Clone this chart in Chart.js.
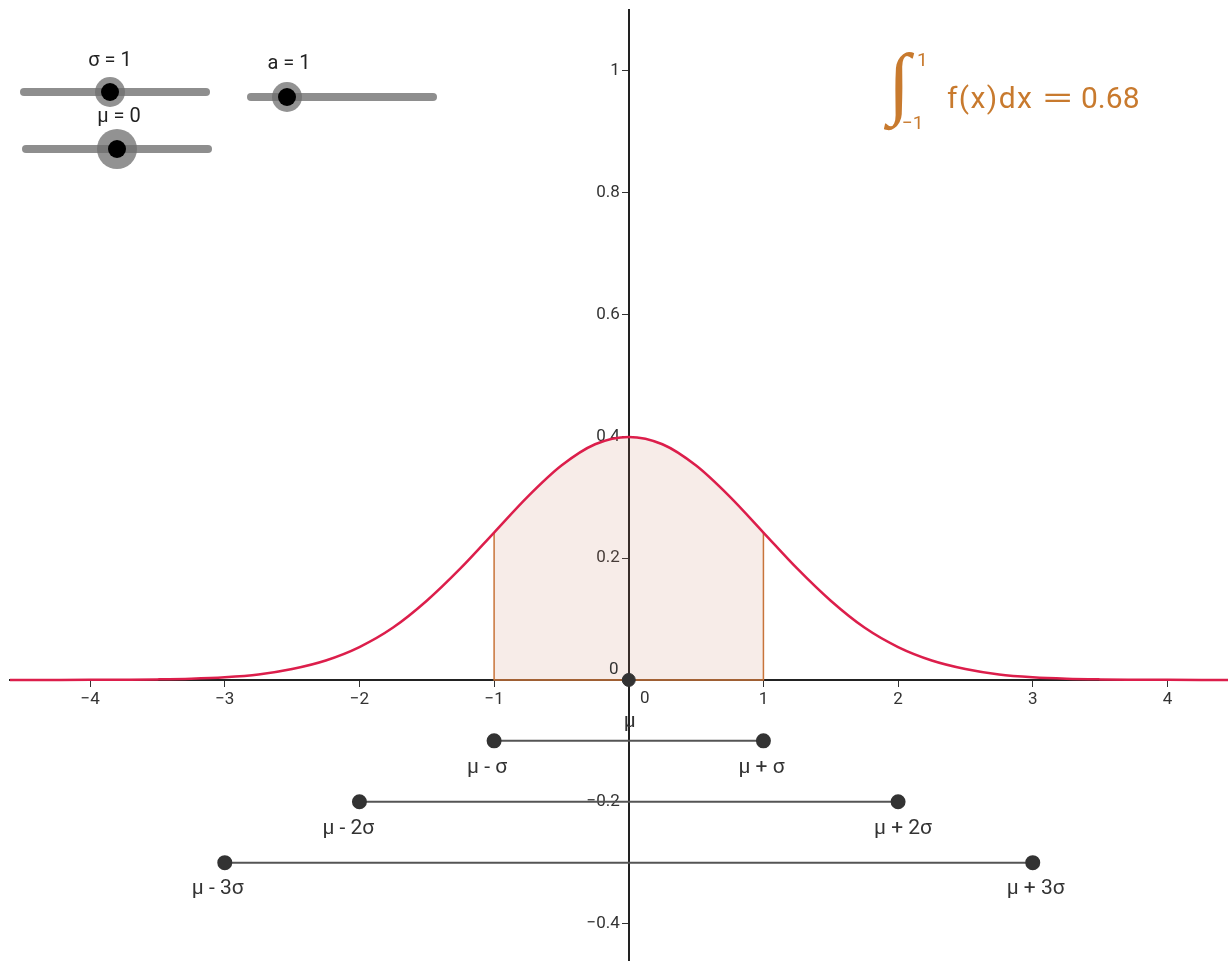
<!DOCTYPE html>
<html>
<head>
<meta charset="utf-8">
<script src="https://cdn.jsdelivr.net/npm/chart.js@4.4.1/dist/chart.umd.min.js"></script>
<style>
  html, body { margin:0; padding:0; background:#fff; }
  #wrap { position:relative; width:1228px; height:961px; overflow:hidden; font-family: Roboto, "Noto Sans", sans-serif; color:#333; }
  #wrap canvas { position:absolute; left:0; top:0; }
  .track { position:absolute; height:8px; margin-top:-4px; background:#8e8e8e; border-radius:4px; }
  .halo, .knob { position:absolute; border-radius:50%; }
  .halo { background:rgba(110,110,110,0.75); }
  .knob { background:#000; }
  .slabel { position:absolute; font-size:20px; transform:translate(-50%,-50%); white-space:nowrap; color:#222; }
  #integral { position:absolute; left:0; top:0; color:#c87a2e; }
  #integral span { position:absolute; white-space:nowrap; line-height:1; }
  #integral .sign { left:888px; top:42px; font-family:"Liberation Serif"; font-size:80px; }
  #integral .sup { left:917px; top:50px; font-size:19px; }
  #integral .sub { left:902px; top:113px; font-size:19px; }
  #integral .fx { left:947px; top:83px; font-size:30px; letter-spacing:1.4px; }
  #integral .eq { left:1041px; top:83px; font-size:30px; transform:scaleX(2); transform-origin:left center; }
  #integral .val { left:1081px; top:83px; font-size:30px; }
</style>
</head>
<body>
<div id="wrap">
  <canvas id="chart" width="1228" height="961"></canvas>
  <div id="sliders"></div>
  <div id="integral">
    <span class="sign">∫</span>
    <span class="sup">1</span>
    <span class="sub">−1</span>
    <span class="fx">f(x)dx</span>
    <span class="eq">=</span>
    <span class="val">0.68</span>
  </div>
</div>
<script>
// --- data ---
const mu = 0;
const sigma = 1;
const curveX = [-4.75, -4.5, -4.25, -4, -3.75, -3.5, -3.25, -3, -2.75, -2.5, -2.25, -2, -1.75, -1.5, -1.25, -1,
                -0.75, -0.5, -0.25, 0, 0.25, 0.5, 0.75, 1, 1.25, 1.5, 1.75, 2, 2.25, 2.5, 2.75, 3,
                3.25, 3.5, 3.75, 4, 4.25, 4.5, 4.75];
const curveY = [0, 0, 0, 0.0001, 0.0004, 0.0009, 0.002, 0.0044, 0.009, 0.018, 0.032, 0.054, 0.086, 0.13, 0.183, 0.242,
                0.301, 0.352, 0.387, 0.399, 0.387, 0.352, 0.301, 0.242, 0.183, 0.13, 0.086, 0.054, 0.032, 0.018, 0.009, 0.0044,
                0.002, 0.0009, 0.0004, 0.0001, 0, 0, 0];
const shadeFrom = -1;
const shadeTo = 1;
const intervalK = [1, 2, 3];
const intervalY = [-0.1, -0.2, -0.3];
const leftLabels  = ['μ - σ', 'μ - 2σ', 'μ - 3σ'];
const rightLabels = ['μ + σ', 'μ + 2σ', 'μ + 3σ'];

// label offsets (px) from each end point, as placed in the original
const leftOff  = [[-27, 27], [-37, 27], [-33, 26]];
const rightOff = [[-25, 27], [-24, 27], [-26, 26]];

// sliders: label, track x0..x1, y, knob x, halo r
const sliders = [
  { label: 'σ = 1', x0: 20,  x1: 210, y: 92,  knob: 110, halo: 15, lx: 110, ly: 59 },
  { label: 'a = 1', x0: 247, x1: 437, y: 97,  knob: 287, halo: 15, lx: 289, ly: 62 },
  { label: 'μ = 0', x0: 22,  x1: 212, y: 149, knob: 117, halo: 20, lx: 119, ly: 115 },
];

const sl = document.getElementById('sliders');
sliders.forEach(s => {
  sl.insertAdjacentHTML('beforeend', `
    <div class="track" style="left:${s.x0}px;top:${s.y}px;width:${s.x1 - s.x0}px"></div>
    <div class="halo" style="left:${s.knob - s.halo}px;top:${s.y - s.halo}px;width:${2*s.halo}px;height:${2*s.halo}px"></div>
    <div class="knob" style="left:${s.knob - 9}px;top:${s.y - 9}px;width:18px;height:18px"></div>
    <div class="slabel" style="left:${s.lx}px;top:${s.ly}px">${s.label}</div>`);
});

const pts = curveX.map((x, i) => ({ x, y: curveY[i] }));
const shadePts = pts.filter(p => p.x >= shadeFrom && p.x <= shadeTo);
const yAt = x => curveY[curveX.indexOf(x)];
const edgePts = [
  { x: shadeFrom, y: yAt(shadeFrom) }, { x: shadeFrom, y: 0 },
  { x: shadeTo, y: 0 }, { x: shadeTo, y: yAt(shadeTo) },
];

const fmt = v => v === 0 ? '' : String(Math.round(v * 10) / 10).replace('-', '\u2212');

const datasets = [
  { data: pts, borderColor: '#dc1e4b', borderWidth: 2.5, pointRadius: 0,
    cubicInterpolationMode: 'monotone', order: 1 },
  { data: shadePts, borderWidth: 0, pointRadius: 0, cubicInterpolationMode: 'monotone',
    fill: 'origin', backgroundColor: 'rgba(200,120,90,0.14)', order: 6 },
  { data: edgePts, borderColor: '#c8743a', borderWidth: 1.5, pointRadius: 0, tension: 0, order: 5 },
];
intervalK.forEach((k, i) => {
  datasets.push({
    data: [{ x: mu - k * sigma, y: intervalY[i] }, { x: mu + k * sigma, y: intervalY[i] }],
    borderColor: '#555', borderWidth: 2, pointRadius: 6.5,
    pointBackgroundColor: '#333', pointBorderColor: '#333', order: 2,
  });
});
datasets.push({ data: [{ x: mu, y: 0 }], showLine: false, pointRadius: 6.5,
  pointBackgroundColor: '#333', pointBorderColor: '#333', order: 0 });

// y tick labels sit a little left of the axis line (GeoGebra style)
const shiftYLabels = {
  id: 'shiftYLabels',
  beforeDraw(chart) {
    const items = chart.scales.y.getLabelItems();
    if (items._shifted) return;
    items.forEach(it => { it.options.translation[0] -= 9; });
    items._shifted = true;
  }
};

const labelPlugin = {
  id: 'pointLabels',
  afterDatasetsDraw(chart) {
    const { ctx, scales: { x, y } } = chart;
    const x0 = x.getPixelForValue(0), y0 = y.getPixelForValue(0);
    ctx.save();
    ctx.fillStyle = '#333';
    ctx.font = '21px Roboto';
    ctx.textAlign = 'left';
    ctx.textBaseline = 'middle';
    intervalK.forEach((k, i) => {
      const py = y.getPixelForValue(intervalY[i]);
      const xl = x.getPixelForValue(mu - k * sigma), xr = x.getPixelForValue(mu + k * sigma);
      ctx.fillText(leftLabels[i], xl + leftOff[i][0], py + leftOff[i][1]);
      ctx.fillText(rightLabels[i], xr + rightOff[i][0], py + rightOff[i][1]);
    });
    ctx.textAlign = 'center';
    ctx.fillText('μ', x.getPixelForValue(mu) + 1, y0 + 42);
    ctx.font = '17px Roboto';
    ctx.fillText('0', x0 - 15, y0 - 10);
    ctx.fillText('0', x0 + 16, y0 + 19);
    ctx.restore();
  }
};

// axes cross inside the plot, so they should not push the plot edges in
const noPad = scale => { scale.paddingTop = scale.paddingBottom = scale.paddingLeft = scale.paddingRight = 0; };

const axisCommon = {
  type: 'linear',
  afterFit: noPad,
  grid: { drawOnChartArea: false, drawTicks: true, tickLength: 6, color: '#333', lineWidth: 1 },
  border: { display: true, color: '#222', width: 2 },
};

new Chart(document.getElementById('chart'), {
  type: 'line',
  data: { datasets },
  plugins: [shiftYLabels, labelPlugin],
  options: {
    responsive: false,
    animation: false,
    layout: { autoPadding: false, padding: { left: 10, top: 10, right: 0, bottom: 0 } },
    plugins: { legend: { display: false }, tooltip: { enabled: false } },
    scales: {
      x: { ...axisCommon, min: -4.595, max: 4.45, position: { y: 0 },
        ticks: { stepSize: 1, includeBounds: false, autoSkip: false, maxRotation: 0,
          color: '#333', font: { family: 'Roboto', size: 17 }, padding: 4, callback: fmt } },
      y: { ...axisCommon, min: -0.4615, max: 1.1, position: { x: 0 },
        ticks: { stepSize: 0.2, includeBounds: false, autoSkip: false,
          color: '#333', font: { family: 'Roboto', size: 17 }, padding: 3, callback: fmt } },
    },
  },
});
</script>
</body>
</html>
